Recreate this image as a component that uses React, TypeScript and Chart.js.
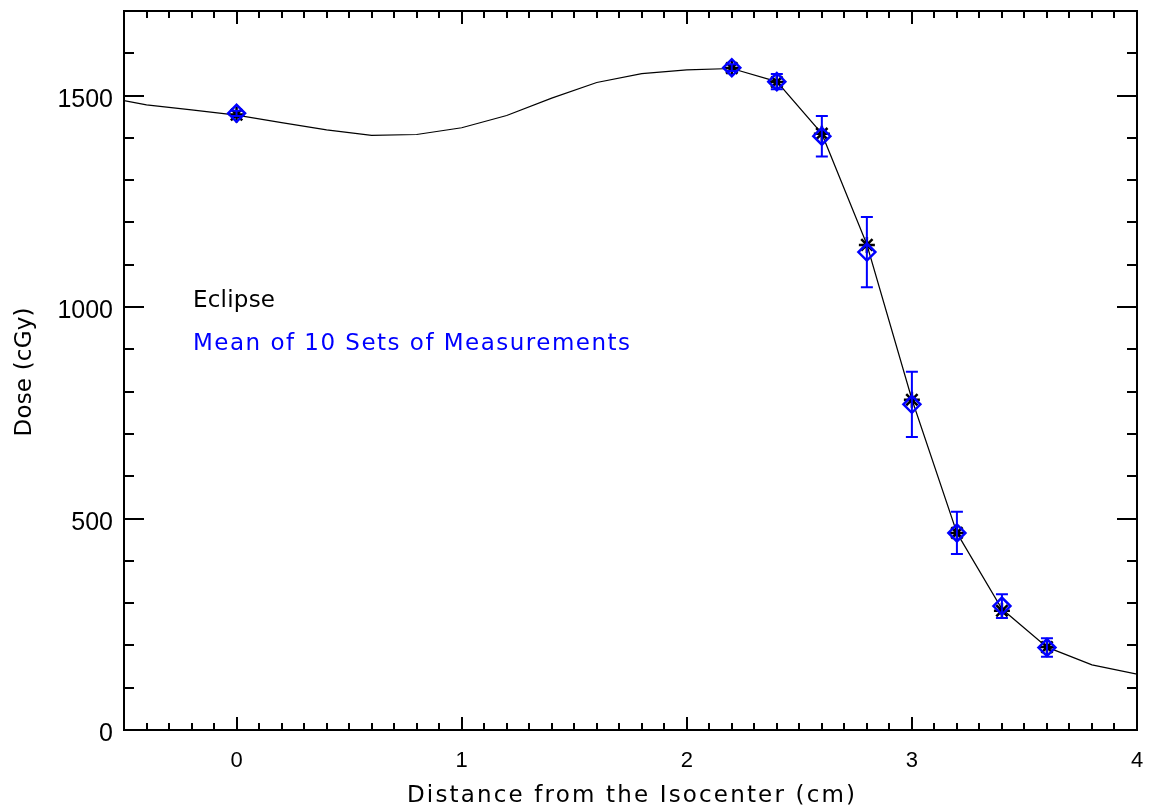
import React, { useEffect, useRef } from "react";
import { Chart, registerables } from "chart.js";

Chart.register(...registerables);

// Eclipse calculated profile (black line)
const curveX = [-0.5, -0.4, -0.2, 0, 0.2, 0.4, 0.6, 0.8, 1.0, 1.2, 1.4, 1.6, 1.8, 2.0, 2.2, 2.4, 2.6, 2.8, 3.0, 3.2, 3.4, 3.6, 3.8, 4.0];
const curveY = [1488, 1478, 1466, 1454, 1436, 1419, 1406, 1408, 1424, 1453, 1494, 1531, 1552, 1561, 1564, 1533, 1410, 1148, 782, 466, 286, 196, 154, 132];

// Eclipse values at measurement positions (black asterisks)
const pointX = [0, 2.2, 2.4, 2.6, 2.8, 3.0, 3.2, 3.4, 3.6];
const eclipseY = [1455, 1565, 1532, 1410, 1147, 781, 466, 282, 196];

// Mean of 10 sets of measurements (blue diamonds) with errors
const measY = [1458, 1566, 1533, 1404, 1130, 770, 466, 293, 195];
const measErr = [6, 8, 18, 48, 83, 77, 50, 28, 22];

const xTickLabels = ["0", "1", "2", "3", "4"];
const yTickLabels = ["0", "500", "1000", "1500"];

const X_MIN = -0.5, X_MAX = 4;
const Y_MIN = 0, Y_MAX = 1700;

function setSpacing(ctx: any, v: number) {
  try { ctx.letterSpacing = v + "px"; } catch (e) {}
}

// draw text stretched (via letter spacing) to a target width
function fitText(ctx: any, text: string, x: number, y: number, width: number, align: "left" | "center") {
  setSpacing(ctx, 0);
  const natural = ctx.measureText(text).width;
  const sp = Math.max(0, (width - natural) / (text.length - 1));
  setSpacing(ctx, sp);
  ctx.textAlign = "left";
  const startX = align === "center" ? x - width / 2 : x;
  ctx.fillText(text, startX, y);
  setSpacing(ctx, 0);
}

const idlPlugin = {
  id: "idlFrame",
  afterDatasetsDraw(chart: any) {
    const ctx = chart.ctx;
    const { left, right, top, bottom } = chart.chartArea;
    const xs = chart.scales.x, ys = chart.scales.y;
    ctx.save();
    // error bars
    ctx.strokeStyle = "#0000ff";
    ctx.lineWidth = 2;
    pointX.forEach((x, i) => {
      const px = xs.getPixelForValue(x);
      const pt = ys.getPixelForValue(measY[i] + measErr[i]);
      const pb = ys.getPixelForValue(measY[i] - measErr[i]);
      ctx.beginPath();
      ctx.moveTo(px, pt); ctx.lineTo(px, pb);
      ctx.moveTo(px - 6, pt); ctx.lineTo(px + 6, pt);
      ctx.moveTo(px - 6, pb); ctx.lineTo(px + 6, pb);
      ctx.stroke();
    });
    // frame
    ctx.strokeStyle = "#000";
    ctx.lineWidth = 2;
    ctx.strokeRect(left, top, right - left, bottom - top);
    // x ticks
    for (let k = 0; k <= 45; k++) {
      const v = X_MIN + k * 0.1;
      const px = Math.round(xs.getPixelForValue(v));
      const major = Math.abs(v - Math.round(v)) < 1e-6;
      const len = major ? 13 : 7;
      ctx.beginPath();
      ctx.moveTo(px, bottom); ctx.lineTo(px, bottom - len);
      ctx.moveTo(px, top); ctx.lineTo(px, top + len);
      ctx.stroke();
    }
    for (let k = 0; k <= 17; k++) {
      const v = k * 100;
      const py = Math.round(ys.getPixelForValue(v));
      const major = v % 500 === 0;
      const len = major ? 20 : 10;
      ctx.beginPath();
      ctx.moveTo(left, py); ctx.lineTo(left + len, py);
      ctx.moveTo(right, py); ctx.lineTo(right - len, py);
      ctx.stroke();
    }
    // tick labels
    ctx.fillStyle = "#000";
    setSpacing(ctx, 0);
    ctx.font = "22px 'Liberation Sans'";
    ctx.textAlign = "center";
    ctx.textBaseline = "alphabetic";
    xTickLabels.forEach((t) => {
      ctx.fillText(t, xs.getPixelForValue(Number(t)), 767);
    });
    ctx.font = "25px 'Liberation Sans'";
    ctx.textAlign = "right";
    yTickLabels.forEach((t) => {
      ctx.fillText(t, left - 11, ys.getPixelForValue(Number(t)) + 11);
    });
    // titles
    ctx.font = "23px 'DejaVu Sans'";
    ctx.textBaseline = "alphabetic";
    fitText(ctx, "Distance from the Isocenter (cm)", 631, 802, 448, "center");
    ctx.save();
    ctx.translate(31, 372);
    ctx.rotate(-Math.PI / 2);
    fitText(ctx, "Dose (cGy)", 0, 0, 129, "center");
    ctx.restore();
    // legend text
    ctx.fillStyle = "#000";
    fitText(ctx, "Eclipse", 193, 307, 82, "left");
    ctx.fillStyle = "#0000ff";
    fitText(ctx, "Mean of 10 Sets of Measurements", 193, 350, 437, "left");
    ctx.restore();
  },
};

export default function App() {
  const ref = useRef<HTMLCanvasElement | null>(null);
  useEffect(() => {
    document.body.style.margin = "0";
    const canvas = ref.current!;
    const chart = new Chart(canvas, {
      type: "scatter",
      data: {
        datasets: [
          {
            label: "Eclipse curve",
            data: curveX.map((x, i) => ({ x, y: curveY[i] })),
            showLine: true,
            borderColor: "#000",
            borderWidth: 1.2,
            pointRadius: 0,
            tension: 0,
            order: 3,
          },
          {
            label: "Eclipse",
            data: pointX.map((x, i) => ({ x, y: eclipseY[i] })),
            showLine: false,
            pointStyle: "star",
            pointRadius: 8,
            borderColor: "#000",
            pointBorderWidth: 2.5,
            backgroundColor: "#000",
            order: 2,
          },
          {
            label: "Mean of 10 Sets of Measurements",
            data: pointX.map((x, i) => ({ x, y: measY[i] })),
            showLine: false,
            pointStyle: "rectRot",
            pointRadius: 8.5,
            borderColor: "#0000ff",
            pointBorderWidth: 2.5,
            backgroundColor: "rgba(0,0,0,0)",
            order: 1,
          },
        ],
      },
      options: {
        responsive: false,
        animation: false,
        layout: { padding: { top: 10, right: 13, left: 0, bottom: 0 } },
        plugins: { legend: { display: false }, tooltip: { enabled: false } },
        scales: {
          x: {
            type: "linear",
            min: X_MIN,
            max: X_MAX,
            grid: { display: false },
            border: { display: false },
            ticks: { display: false },
            afterFit: (s: any) => { s.height = 78; },
          },
          y: {
            type: "linear",
            min: Y_MIN,
            max: Y_MAX,
            grid: { display: false },
            border: { display: false },
            ticks: { display: false },
            afterFit: (s: any) => { s.width = 124; },
          },
        },
      },
      plugins: [idlPlugin],
    });
    return () => chart.destroy();
  }, []);
  return (
    <div style={{ width: 1150, height: 808, background: "#fff" }}>
      <canvas ref={ref} width={1150} height={808} style={{ display: "block" }} />
    </div>
  );
}
